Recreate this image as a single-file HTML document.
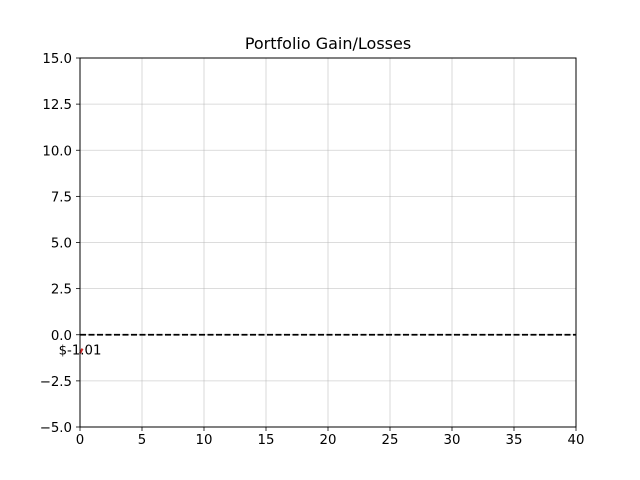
<!DOCTYPE html>
<html><head><meta charset="utf-8"><style>body{margin:0;background:#fff}svg{display:block;font-family:"DejaVu Sans","Liberation Sans",sans-serif}</style></head>
<body>
<svg id="c" width="640" height="480"></svg>
<script>
const xTicks=[0,5,10,15,20,25,30,35,40];
const yTicks=[-5,-2.5,0,2.5,5,7.5,10,12.5,15];
const yTickLabels=["−5.0","−2.5","0.0","2.5","5.0","7.5","10.0","12.5","15.0"];
const days=[0,0.2];
const gains=[-1.01,-0.75];
const lastLabel="$-1.01";
const L=80,R=576,T=58,B=427;
const sx=v=>L+(v-0)/(40-0)*(R-L);
const sy=v=>B-(v+5)/20*(B-T);
const svg=document.getElementById('c');
const NS='http://www.w3.org/2000/svg';
function mk(t,a,txt){const e=document.createElementNS(NS,t);for(const k in a)e.setAttribute(k,a[k]);if(txt!==undefined)e.textContent=txt;svg.appendChild(e);return e;}
xTicks.forEach(v=>{
 const g=mk('line',{x1:sx(v),x2:sx(v),y1:T,y2:B,stroke:'#b0b0b0','stroke-width':0.8,'stroke-opacity':0.6});
 
 
 const t=mk('line',{x1:sx(v),x2:sx(v),y1:B,y2:B+4,stroke:'#000','stroke-width':0.8});
 
 
 const l=mk('text',{x:sx(v),y:B+17,'text-anchor':'middle','font-size':13.3},String(v));
 
 
});
yTicks.forEach((v,i)=>{
 const g=mk('line',{x1:L,x2:R,y1:sy(v),y2:sy(v),stroke:'#b0b0b0','stroke-width':0.8,'stroke-opacity':0.6});
 
 
 const t=mk('line',{x1:L-4,x2:L,y1:sy(v),y2:sy(v),stroke:'#000','stroke-width':0.8});
 
 
 const l=mk('text',{x:L-8,y:sy(v)+5,'text-anchor':'end','font-size':13.3},yTickLabels[i]);
 
 
});
const z=mk('line',{x1:L,x2:R,y1:sy(0),y2:sy(0),stroke:'#000','stroke-width':1.8,'stroke-dasharray':'6,2.5'});


const p=mk('polyline',{points:days.map((d,i)=>sx(d)+','+sy(gains[i])).join(' '),fill:'none',stroke:'#d62728','stroke-width':2.2});


const lab=mk('text',{x:sx(days[0]),y:sy(gains[0])+1,'text-anchor':'middle','font-size':13.3},lastLabel);


const f=mk('rect',{x:L,y:T,width:R-L,height:B-T,fill:'none',stroke:'#000','stroke-width':1});


const ti=mk('text',{x:(L+R)/2,y:49,'text-anchor':'middle','font-size':16},'Portfolio Gain/Losses');


</script>
</body></html>
